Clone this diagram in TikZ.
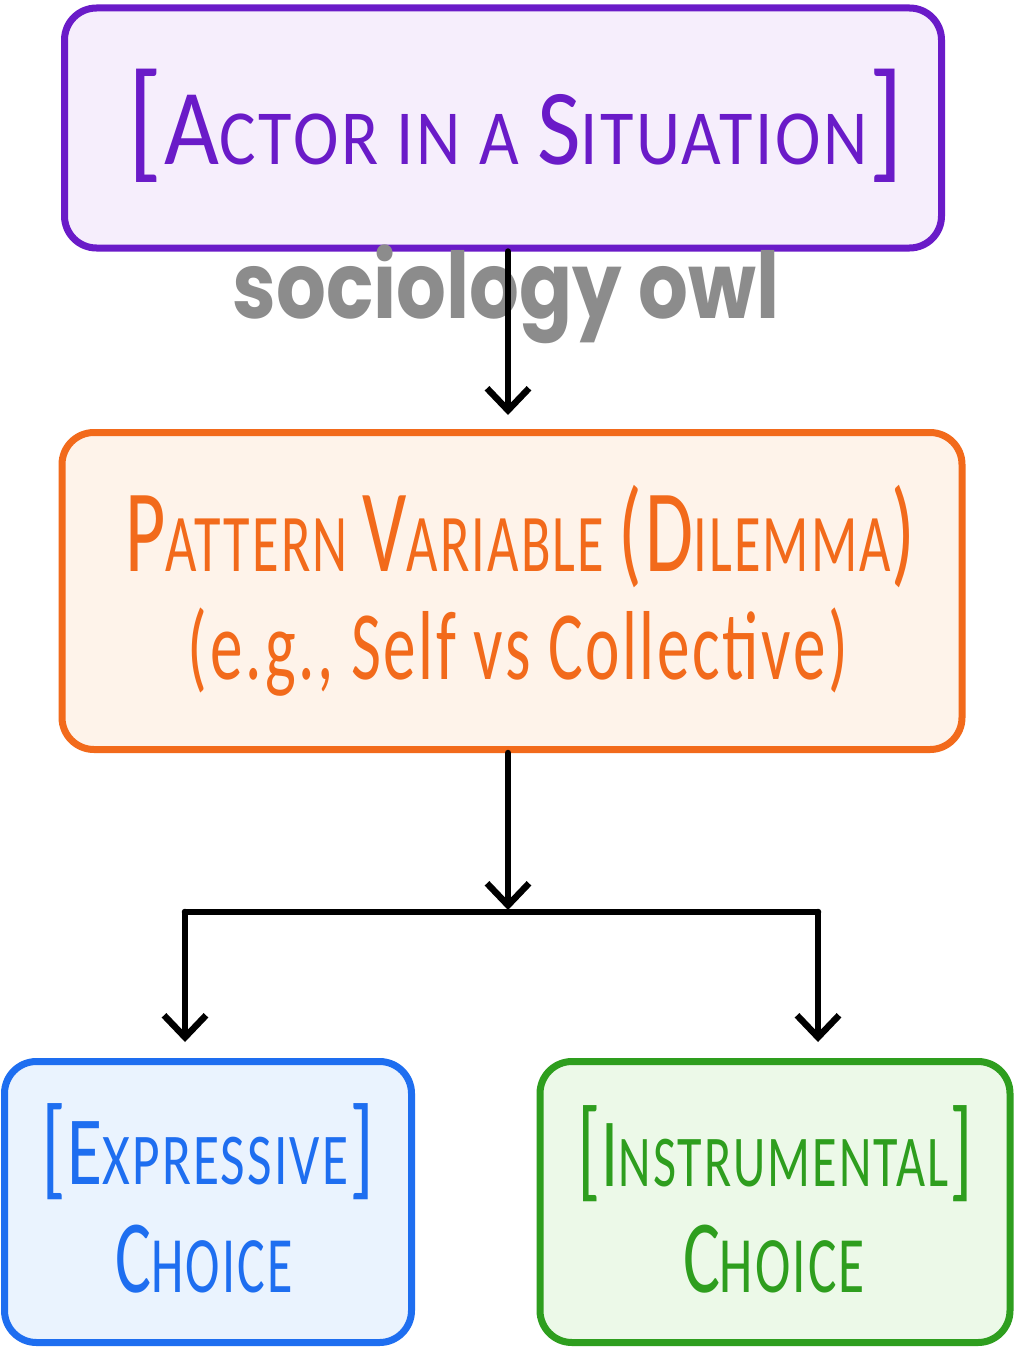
\documentclass[tikz,border=0pt]{standalone}
\usepackage{fontspec}
\usepackage{graphicx}
\setmainfont{Carlito}[LetterSpace=4]
\newfontfamily\wmfont{Poppins}
\usetikzlibrary{arrows.meta}
\definecolor{cpurple}{HTML}{6A1BC8}
\definecolor{fpurple}{HTML}{F6EEFC}
\definecolor{corange}{HTML}{F26A1B}
\definecolor{forange}{HTML}{FEF3EA}
\definecolor{cblue}{HTML}{1E6EF0}
\definecolor{fblue}{HTML}{EAF3FE}
\definecolor{cgreen}{HTML}{2E9E1E}
\definecolor{fgreen}{HTML}{ECF9E8}
\definecolor{wmgray}{HTML}{8C8C8C}
\newcommand\fs[2]{{\fontsize{#1pt}{#1pt}\selectfont #2}}
\begin{document}
\begin{tikzpicture}[x=1pt,y=-1pt,
  box/.style={draw, line width=7pt, rounded corners=32pt, inner sep=0pt},
  lbl/.style={inner sep=0pt, anchor=center},
  conn/.style={line width=6.5pt, line cap=round, line join=round, black},
  arr/.style={conn, -{Straight Barb[length=22pt,width=42pt]}}]
\useasboundingbox (0,0) rectangle (1016,1351);
\fill[white] (0,0) rectangle (1016,1351);
% boxes
\node[box, draw=cpurple, fill=fpurple, minimum width=877pt, minimum height=240pt] (top) at (503,128) {};
\node[box, draw=corange, fill=forange, minimum width=900pt, minimum height=317pt] (mid) at (512,591) {};
\node[box, draw=cblue, fill=fblue, minimum width=407pt, minimum height=281pt] (bl) at (208,1202) {};
\node[box, draw=cgreen, fill=fgreen, minimum width=470pt, minimum height=281pt] (br) at (775,1202) {};
% watermark
\node[lbl, text=wmgray, anchor=base] (wm) at (506,318) {\resizebox{547pt}{\height}{\wmfont\bfseries\fontsize{92pt}{92pt}\selectfont sociology owl}};
% texts
\node[lbl, text=cpurple] (ttop) at (516,126) {\resizebox{777pt}{\height}{\fs{132}{[}\,\fs{108}{A}\fs{78}{CTOR IN A }\fs{108}{S}\fs{78}{ITUATION}\,\fs{132}{]}}};
\node[lbl, text=corange] (tmid1) at (520,537) {\resizebox{790pt}{\height}{\fs{118}{P}\fs{82}{ATTERN }\fs{118}{V}\fs{82}{ARIABLE }\fs{118}{(D}\fs{82}{ILEMMA}\fs{118}{)}}};
\node[lbl, text=corange] (tmid2) at (518,652) {\resizebox{660pt}{\height}{\fs{98}{(e.g., Self vs Collective)}}};
\node[lbl, text=cblue] (tbl1) at (208,1152) {\resizebox{333pt}{\height}{\fs{112}{[}\,\fs{98}{E}\fs{73}{XPRESSIVE}\,\fs{112}{]}}};
\node[lbl, text=cblue] (tbl2) at (204,1259) {\resizebox{177pt}{\height}{\fs{104}{C}\fs{80}{HOICE}}};
\node[lbl, text=cgreen] (tbr1) at (775,1154) {\resizebox{396pt}{\height}{\fs{112}{[}\,\fs{98}{I}\fs{73}{NSTRUMENTAL}\,\fs{112}{]}}};
\node[lbl, text=cgreen] (tbr2) at (774,1259) {\resizebox{182pt}{\height}{\fs{104}{C}\fs{80}{HOICE}}};
% connectors
\coordinate (j) at (508,912);
\coordinate (jl) at (185,912);
\coordinate (jr) at (818,912);
\draw[arr, shorten >=14pt] (top.south -| j) -- (mid.north -| j);
\draw[arr, shorten >=2pt] (mid.south -| j) -- (j);
\draw[conn] (jl) -- (jr);
\draw[arr, shorten >=16pt] (jl) -- (bl.north -| jl);
\draw[arr, shorten >=16pt] (jr) -- (br.north -| jr);
\end{tikzpicture}
\end{document}
